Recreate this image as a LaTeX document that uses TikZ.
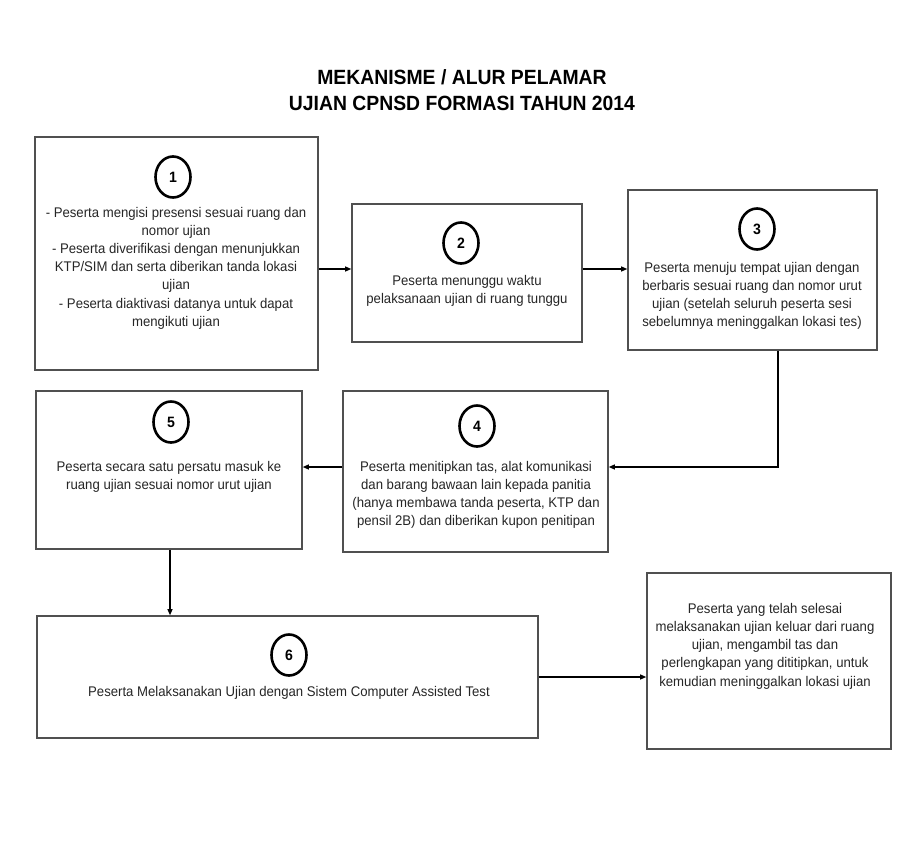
\documentclass[tikz,border=0pt]{standalone}
\usepackage{fontspec}
\setmainfont{Liberation Sans}[FakeStretch=0.94]
\usetikzlibrary{arrows.meta,shapes.geometric}
\definecolor{boxgray}{HTML}{505050}
\definecolor{inkgray}{HTML}{262626}
\begin{document}
\begin{tikzpicture}[x=1pt,y=-1pt,
  box/.style={draw=boxgray, line width=1.6pt, fill=white, inner sep=0pt, rectangle},
  txt/.style={align=center, inner sep=0pt, text=inkgray, font=\fontsize{14}{18.2}\selectfont},
  num/.style={draw=black, ellipse, line width=2.6pt, minimum width=35pt, minimum height=41pt, inner sep=0pt, font=\fontsize{15}{15}\selectfont\bfseries, text=black},
  ttl/.style={inner sep=0pt, font=\fontsize{20.6}{22}\selectfont\bfseries, text=black},
  arr/.style={draw=black, line width=1.1pt, -{Triangle[length=6pt,width=5pt]}}]
\useasboundingbox[fill=white] (0,0) rectangle (900,856);

\node[ttl] (title1) at (462,77) {MEKANISME / ALUR PELAMAR};
\node[ttl] (title2) at (462,103) {UJIAN CPNSD FORMASI TAHUN 2014};

% boxes
\node[box, minimum width=283pt, minimum height=233pt] (b1) at (176.5,253.5) {};
\node[box, minimum width=230pt, minimum height=138pt] (b2) at (467,273) {};
\node[box, minimum width=249pt, minimum height=160pt] (b3) at (752.5,270) {};
\node[box, minimum width=265pt, minimum height=161pt] (b4) at (475.5,471.5) {};
\node[box, minimum width=266pt, minimum height=158pt] (b5) at (169,470) {};
\node[box, minimum width=501pt, minimum height=122pt] (b6) at (287.5,677) {};
\node[box, minimum width=244pt, minimum height=176pt] (b7) at (769,661) {};

% numbers
\node[num] (n1) at (173,177) {1};
\node[num] (n2) at (461,243) {2};
\node[num] (n3) at (757,229) {3};
\node[num] (n4) at (477,426) {4};
\node[num] (n5) at (171,422) {5};
\node[num] (n6) at (289,655) {6};

% texts
\node[txt] (t1) at (176,268) {- Peserta mengisi presensi sesuai ruang dan\\ nomor ujian\\ - Peserta diverifikasi dengan menunjukkan\\ KTP/SIM dan serta diberikan tanda lokasi\\ ujian\\ - Peserta diaktivasi datanya untuk dapat\\ mengikuti ujian};
\node[txt] (t2) at (467,291) {Peserta menunggu waktu\\ pelaksanaan ujian di ruang tunggu};
\node[txt] (t3) at (752,296) {Peserta menuju tempat ujian dengan\\ berbaris sesuai ruang dan nomor urut\\ ujian (setelah seluruh peserta sesi\\ sebelumnya meninggalkan lokasi tes)};
\node[txt] (t4) at (476,495) {Peserta menitipkan tas, alat komunikasi\\ dan barang bawaan lain kepada panitia\\ (hanya membawa tanda peserta, KTP dan\\ pensil 2B) dan diberikan kupon penitipan};
\node[txt] (t5) at (169,477) {Peserta secara satu persatu masuk ke\\ ruang ujian sesuai nomor urut ujian};
\node[txt] (t6) at (289,693) {Peserta Melaksanakan Ujian dengan Sistem Computer Assisted Test};
\node[txt] (t7) at (765,646) {Peserta yang telah selesai\\ melaksanakan ujian keluar dari ruang\\ ujian, mengambil tas dan\\ perlengkapan yang dititipkan, untuk\\ kemudian meninggalkan lokasi ujian};

% connector guides
\coordinate (r12) at (0,269);
\coordinate (r45) at (0,467);
\coordinate (c34) at (778,0);
\coordinate (c56) at (170,0);
\coordinate (r67) at (0,677);

\draw[arr] (b1.east |- r12) -- (b2.west |- r12);
\draw[arr] (b2.east |- r12) -- (b3.west |- r12);
\draw[arr] (b3.south -| c34) -- (c34 |- r45) -- (b4.east |- r45);
\draw[arr] (b4.west |- r45) -- (b5.east |- r45);
\draw[arr] (b5.south -| c56) -- (b6.north -| c56);
\draw[arr] (b6.east |- r67) -- (b7.west |- r67);
\end{tikzpicture}
\end{document}
